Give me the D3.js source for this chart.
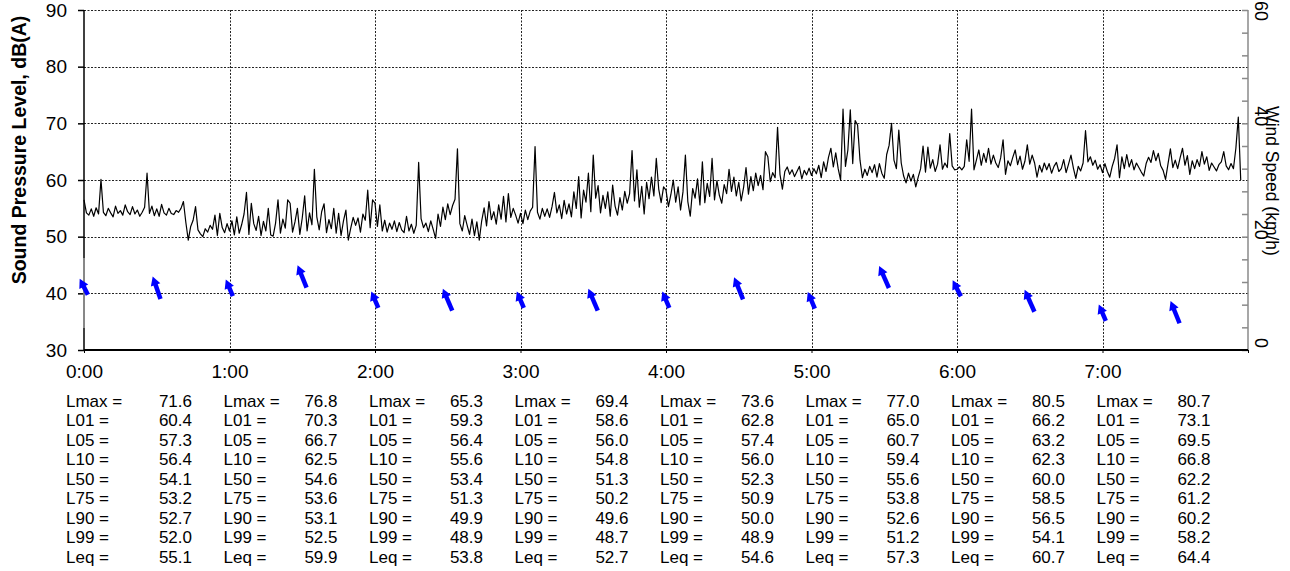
<!DOCTYPE html>
<html>
<head>
<meta charset="utf-8">
<script src="https://cdn.jsdelivr.net/npm/d3@7"></script>
<style>
  body { margin: 0; background: #fff; }
  svg { display: block; font-family: Arial, "Liberation Sans", sans-serif; }
</style>
</head>
<body>
<svg width="1290" height="571"></svg>
<script>
// sound pressure level, one reading per minute from 0:00
const spl = [
  56.5,54.2,53.8,54.9,53.6,55.1,54.0,60.1,54.3,53.7, 55.0,54.2,53.5,55.4,54.1,54.6,53.8,55.6,54.4,53.9,
  55.3,54.0,54.7,53.6,54.3,55.2,61.2,54.1,55.4,53.7, 54.9,53.6,55.7,54.2,53.8,55.0,54.1,53.9,54.6,54.3,
  55.0,56.2,52.5,49.4,51.8,52.9,55.3,51.2,50.5,50.0, 51.4,50.8,52.0,51.3,53.8,50.2,54.1,51.6,50.7,52.3,
  51.0,52.8,50.3,53.5,50.6,52.1,54.0,57.8,50.4,55.9, 52.3,51.1,53.6,50.2,52.7,51.0,55.0,50.3,50.1,52.4,
  56.5,50.6,53.1,51.5,56.5,55.9,50.8,52.6,55.0,50.4, 53.3,57.2,51.0,54.2,52.1,61.9,53.5,51.2,54.4,55.8,
  50.7,53.0,51.4,55.0,50.6,54.1,50.2,52.8,54.7,49.4, 51.5,53.4,52.0,53.3,50.8,54.0,52.9,58.2,51.6,56.5,
  55.9,51.8,55.6,51.0,52.9,50.8,52.4,51.3,52.8,50.9, 52.5,51.2,50.7,53.6,51.0,52.2,50.6,52.0,63.1,53.2,
  51.6,52.4,50.9,52.8,51.3,49.7,54.0,51.8,55.2,53.0, 55.8,53.9,55.5,56.6,65.5,52.3,51.0,53.7,52.0,50.4,
  53.1,50.2,52.6,49.4,52.8,55.1,51.9,56.2,53.0,54.4, 52.2,55.6,53.1,57.1,52.6,57.6,53.4,55.0,53.8,52.4,
  54.1,52.3,54.7,53.0,54.5,55.2,65.9,54.3,53.1,55.0, 53.6,54.9,53.4,55.3,57.8,54.2,55.6,53.2,56.4,54.0,
  55.8,53.5,57.9,55.0,60.6,53.3,58.2,56.1,61.2,54.4, 64.4,56.8,59.0,54.2,57.3,55.0,57.9,53.6,59.1,55.4,
  53.8,56.9,54.7,58.0,55.9,57.6,65.2,56.3,61.8,55.2, 58.9,54.0,59.6,56.7,60.5,57.2,63.8,58.4,56.0,58.8,
  58.2,55.3,57.4,60.0,56.1,58.8,54.7,57.9,64.4,56.2, 53.6,58.5,56.8,60.2,55.6,63.2,56.0,59.4,57.1,63.8,
  56.5,59.9,57.3,55.9,59.2,57.6,61.9,58.0,60.5,57.2, 59.6,56.3,58.7,62.2,57.5,60.6,58.1,61.2,59.0,60.8,
  58.3,65.0,64.1,59.7,61.3,60.4,69.3,61.0,58.4,61.5, 62.3,61.0,61.8,60.6,61.5,62.4,60.2,61.7,60.9,62.1,
  60.8,62.0,61.1,62.6,60.4,63.2,61.5,64.0,65.6,62.3, 64.8,62.0,60.0,72.5,62.4,65.3,72.4,62.9,70.5,69.7,
  63.5,60.4,61.9,60.8,62.4,61.3,62.7,60.5,62.9,61.2, 60.3,64.5,66.1,70.0,63.5,62.0,68.8,63.0,60.7,59.5,
  61.2,59.8,61.0,58.8,60.5,62.0,66.0,61.4,65.8,62.1, 63.6,61.5,62.8,66.2,61.9,63.0,62.2,68.2,62.5,61.8,
  61.9,62.3,61.8,62.4,67.1,63.3,72.5,61.8,63.5,65.3, 62.6,64.7,63.1,65.6,62.8,64.4,63.0,62.2,63.9,67.1,
  61.0,63.4,62.5,64.0,65.3,62.7,64.2,61.9,63.3,66.2, 62.8,64.4,63.0,60.5,62.6,61.4,63.0,61.8,62.9,61.2,
  62.4,63.1,61.5,62.0,63.6,61.3,62.8,64.4,62.1,60.3, 62.4,61.6,63.0,68.7,63.2,64.1,62.6,63.5,61.9,62.7,
  61.3,62.9,61.5,60.5,62.4,63.8,66.2,60.4,64.1,62.0, 64.5,62.3,63.6,61.8,63.0,62.2,61.4,60.7,62.9,64.0,
  63.1,65.2,63.4,64.7,62.5,61.7,60.1,62.8,65.5,62.2, 63.5,62.0,63.9,65.6,62.6,64.3,61.0,63.4,62.0,63.6,
  62.4,65.0,62.8,64.1,61.7,63.0,62.3,61.6,62.7,63.2, 65.0,62.5,61.8,62.9,62.0,65.6,71.1,60.0
];

// half-hourly wind: time (h), speed (km/h), direction the arrow points (deg, clockwise from north)
const windTime  = [0, 0.5, 1, 1.5, 2, 2.5, 3, 3.5, 4, 4.5, 5, 5.5, 6, 6.5, 7, 7.5];
const windSpeed = [11.1, 10.9, 10.9, 12.9, 8.8, 8.8, 8.8, 8.8, 8.8, 10.8, 8.7, 12.8, 10.8, 8.6, 6.5, 6.6];
const windDir   = [333, 341, 337, 338, 337, 337, 337, 337, 337, 338, 337, 336, 333, 336, 337, 338];

const hourLabels = ['0:00', '1:00', '2:00', '3:00', '4:00', '5:00', '6:00', '7:00'];
const splTicks = [30, 40, 50, 60, 70, 80, 90];
const windTicks = [0, 20, 40, 60];

// hourly statistics table
const statNames = ['Lmax =', 'L01 =', 'L05 =', 'L10 =', 'L50 =', 'L75 =', 'L90 =', 'L99 =', 'Leq ='];
const lmax = [71.6, 76.8, 65.3, 69.4, 73.6, 77.0, 80.5, 80.7];
const l01  = [60.4, 70.3, 59.3, 58.6, 62.8, 65.0, 66.2, 73.1];
const l05  = [57.3, 66.7, 56.4, 56.0, 57.4, 60.7, 63.2, 69.5];
const l10  = [56.4, 62.5, 55.6, 54.8, 56.0, 59.4, 62.3, 66.8];
const l50  = [54.1, 54.6, 53.4, 51.3, 52.3, 55.6, 60.0, 62.2];
const l75  = [53.2, 53.6, 51.3, 50.2, 50.9, 53.8, 58.5, 61.2];
const l90  = [52.7, 53.1, 49.9, 49.6, 50.0, 52.6, 56.5, 60.2];
const l99  = [52.0, 52.5, 48.9, 48.7, 48.9, 51.2, 54.1, 58.2];
const leq  = [55.1, 59.9, 53.8, 52.7, 54.6, 57.3, 60.7, 64.4];
const statRows = [lmax, l01, l05, l10, l50, l75, l90, l99, leq];

const svg = d3.select('svg');
const pLeft = 84, pRight = 1248, pTop = 10, pBottom = 350;

const x = d3.scaleLinear().domain([0, 8]).range([pLeft, pRight]);
const y = d3.scaleLinear().domain([30, 90]).range([pBottom, pTop]);
const yWind = d3.scaleLinear().domain([0, 60]).range([pBottom, pTop]);

// grid
const grid = svg.append('g').attr('stroke', '#222').attr('stroke-width', 1).attr('stroke-dasharray', '2,1.5');
grid.selectAll('.hg').data(splTicks.slice(1)).enter().append('line')
  .attr('x1', pLeft).attr('x2', pRight)
  .attr('y1', d => Math.round(y(d)) + 0.5).attr('y2', d => Math.round(y(d)) + 0.5);
grid.selectAll('.vg').data(d3.range(1, 8)).enter().append('line')
  .attr('y1', pTop).attr('y2', pBottom)
  .attr('x1', d => Math.round(x(d)) + 0.5).attr('x2', d => Math.round(x(d)) + 0.5);

// right (wind) axis
const rAxis = svg.append('g').attr('transform', `translate(${pRight},0)`)
  .call(d3.axisLeft(yWind).tickValues(d3.range(0, 61, 4)).tickSize(6).tickFormat(''));
rAxis.selectAll('line, path').attr('stroke', '#8a8a8a').attr('stroke-width', 1.5);
rAxis.select('.domain').attr('d', `M0,${pTop}V${pBottom}`);

svg.selectAll('.wtick').data(windTicks).enter().append('text')
  .attr('transform', d => `translate(1255,${Math.max(yWind(d) - 7, 11)}) rotate(90)`)
  .attr('text-anchor', 'middle').attr('font-size', 18).text(d => d);
svg.append('text')
  .attr('transform', 'translate(1266,181) rotate(90)')
  .attr('text-anchor', 'middle').attr('font-size', 17.5).text('Wind Speed (km/h)');

// left axis (the part behind the wind panel shows lighter)
const lAxis = svg.append('g').attr('transform', `translate(${pLeft},0)`)
  .call(d3.axisLeft(y).tickValues(splTicks).tickSize(6).tickPadding(11));
lAxis.select('.domain').attr('d', `M0,${pTop}V${pBottom}`).attr('stroke-width', 1.5);
lAxis.selectAll('line').attr('stroke-width', 1.5);
lAxis.selectAll('text').attr('font-size', 19).attr('font-family', null).attr('fill', '#000');
lAxis.append('line').attr('y1', 258).attr('y2', 328).attr('stroke', '#9a9a9a').attr('stroke-width', 1.6);

svg.append('text')
  .attr('transform', `translate(26,${(pTop + 290) / 2}) rotate(-90)`)
  .attr('text-anchor', 'middle').attr('font-size', 19.5).attr('font-weight', 'bold')
  .text('Sound Pressure Level, dB(A)');

// bottom axis
const bAxis = svg.append('g').attr('transform', `translate(0,${pBottom})`)
  .call(d3.axisBottom(x).tickValues(d3.range(0, 9)).tickSize(3).tickPadding(12)
    .tickFormat(d => hourLabels[d] || ''));
bAxis.select('.domain').attr('d', `M${pLeft},0H${pRight}`).attr('stroke-width', 2);
bAxis.selectAll('text').attr('font-size', 19).attr('font-family', null).attr('fill', '#000');

// sound level trace
const line = d3.line().x((d, i) => x(i / 60)).y(d => y(d));
svg.append('path').datum(spl)
  .attr('fill', 'none').attr('stroke', '#000').attr('stroke-width', 1.2)
  .attr('stroke-linejoin', 'round').attr('d', line);

// wind arrows
const arrows = svg.selectAll('.arrow').data(windTime).enter().append('g')
  .attr('transform', (d, i) => `translate(${x(d)},${yWind(windSpeed[i])}) rotate(${windDir[i]})`);
arrows.each(function (d, i) {
  const L = i % 2 ? 23 : 17;
  const g = d3.select(this);
  g.append('line').attr('x1', 0).attr('x2', 0).attr('y1', L / 2).attr('y2', -L / 2 + 6)
    .attr('stroke', '#0000ff').attr('stroke-width', 4.5);
  g.append('path').attr('d', `M0,${-L / 2 - 1}L-5,${-L / 2 + 8}L5,${-L / 2 + 8}Z`).attr('fill', '#0000ff');
});

// statistics table
const rowY = i => 406.5 + i * 19.5;
const labelX = c => (c === 0 ? x(0) - 18 : x(c) - 6);
statRows.forEach((vals, r) => {
  svg.selectAll(null).data(vals).enter().append('text')
    .attr('x', (d, c) => labelX(c)).attr('y', rowY(r))
    .attr('font-size', 17).text(statNames[r]);
  svg.selectAll(null).data(vals).enter().append('text')
    .attr('x', (d, c) => x(c) + 108).attr('y', rowY(r))
    .attr('text-anchor', 'end').attr('font-size', 17).text(d => d.toFixed(1));
});
</script>
</body>
</html>
